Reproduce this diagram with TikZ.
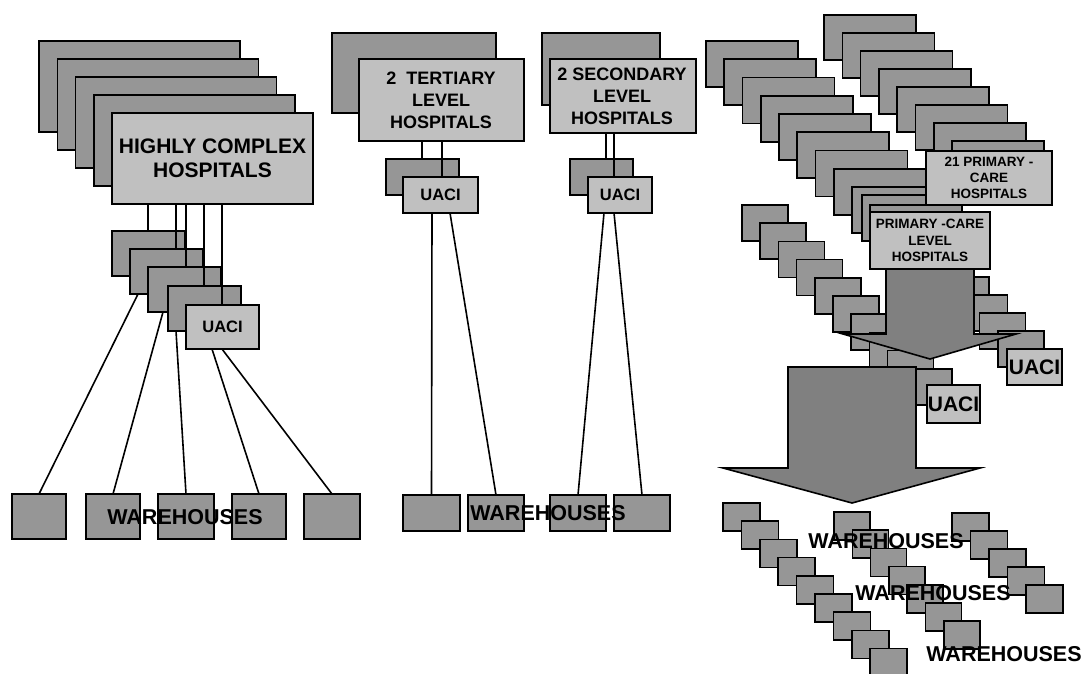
\documentclass[tikz,border=0pt]{standalone}
\usepackage{fontspec}
\setmainfont{Liberation Sans}
\definecolor{lightg}{HTML}{C0C0C0}
\definecolor{darkg}{HTML}{969696}
\definecolor{arrg}{HTML}{808080}
\newcommand\gb[6]{\node[#1,minimum width=#5,minimum height=#6] (#2) at (#3,-#4) {};}
\begin{document}
\begin{tikzpicture}[x=1pt,y=1pt,
  dk/.style={draw=black,fill=darkg,line width=1.6pt,inner sep=0pt,outer sep=0pt,anchor=north west},
  lt/.style={dk,fill=lightg},
  ln/.style={line width=1.6pt},
  arr/.style={draw=black,fill=arrg,line width=1.6pt,line join=miter},
  tbig/.style={inner sep=0pt,align=center,font=\fontsize{21}{24}\selectfont\bfseries},
  tmidl/.style={inner sep=0pt,align=center,font=\fontsize{18}{22}\selectfont\bfseries},
  tsml/.style={inner sep=0pt,align=center,font=\fontsize{13.5}{16}\selectfont\bfseries},
  tuac/.style={inner sep=0pt,align=center,font=\fontsize{16.5}{18}\selectfont\bfseries},
  tuacb/.style={inner sep=0pt,align=center,font=\fontsize{21}{24}\selectfont\bfseries},
  twh/.style={inner sep=0pt,align=center,font=\fontsize{21.5}{24}\selectfont\bfseries}
]
\useasboundingbox (0,0) rectangle (1083,-673);
\fill[white] (0,0) rectangle (1083,-673);

% ---------- left group ----------
\foreach \i in {0,...,3} {\node[dk,minimum width=201,minimum height=91] (hb\i) at ({39+18.3*\i},{-41-18*\i}) {};}
\gb{lt}{hc}{112}{113}{201}{91}
\node[tbig] (hct) at (hc.center) {HIGHLY COMPLEX\\HOSPITALS};

\gb{dk}{s1}{112}{231}{73}{45}
\gb{dk}{s2}{130}{249}{73}{45}
\gb{dk}{s3}{148}{267}{73}{45}
\gb{dk}{s4}{168}{286}{73}{45}
\gb{lt}{su}{186}{305}{73}{44}
\node[tuac] (sut) at (su.center) {UACI};

\draw[ln] (148,0 |- hc.south) -- (148,0 |- s1.north);
\draw[ln] (176,0 |- hc.south) -- (176,0 |- s2.north);
\draw[ln] (186,0 |- hc.south) -- (186,0 |- s3.north);
\draw[ln] (204,0 |- hc.south) -- (204,0 |- s4.north);
\draw[ln] (222,0 |- hc.south) -- (222,0 |- su.north);

\gb{dk}{w1}{12}{494}{54}{45}
\gb{dk}{w2}{86}{494}{54}{45}
\gb{dk}{w3}{158}{494}{56}{45}
\gb{dk}{w4}{232}{494}{54}{45}
\gb{dk}{w5}{304}{494}{56}{45}

\draw[ln] (138,0 |- s2.south) -- (w1.north);
\draw[ln] (163,0 |- s3.south) -- (w2.north);
\draw[ln] (176,0 |- s4.south) -- (w3.north);
\draw[ln] (212,0 |- su.south) -- (w4.north);
\draw[ln] (222,0 |- su.south) -- (w5.north);
\node[twh] (wlt) at (185,-517) {WAREHOUSES};

% ---------- tertiary ----------
\gb{dk}{tb}{332}{33}{164}{80}
\gb{lt}{tf}{359}{59}{165}{82}
\node[tmidl] (tft) at (441,-100) {2~~TERTIARY\\LEVEL\\HOSPITALS};
\gb{dk}{ts}{386}{159}{73}{36}
\gb{lt}{tu}{403}{177}{75}{36}
\node[tuac] (tut) at (tu.center) {UACI};
\draw[ln] (422,0 |- tf.south) -- (422,0 |- ts.north);
\draw[ln] (442,0 |- tf.south) -- (442,0 |- tu.north);

% ---------- secondary ----------
\gb{dk}{sb}{542}{33}{118}{72}
\gb{lt}{sf}{550}{59}{146}{74}
\node[tmidl] (sft) at (622,-96) {2 SECONDARY\\LEVEL\\HOSPITALS};
\gb{dk}{ss}{570}{159}{63}{36}
\gb{lt}{ssu}{588}{177}{64}{36}
\node[tuac] (ssut) at (ssu.center) {UACI};
\draw[ln] (606,0 |- sf.south) -- (606,0 |- ss.north);
\draw[ln] (614,0 |- sf.south) -- (614,0 |- ssu.north);

\gb{dk}{mw1}{403}{495}{57}{36}
\gb{dk}{mw2}{468}{495}{56}{36}
\gb{dk}{mw3}{550}{495}{56}{36}
\gb{dk}{mw4}{614}{495}{56}{36}
\draw[ln] (432,0 |- tu.south) -- (mw1.north);
\draw[ln] (450,0 |- tu.south) -- (mw2.north);
\draw[ln] (604,0 |- ssu.south) -- (mw3.north);
\draw[ln] (614,0 |- ssu.south) -- (mw4.north);
\node[twh] (wmt) at (548,-513) {WAREHOUSES};

% ---------- right group ----------
\foreach \i in {0,...,8} {\node[dk,minimum width=92,minimum height=46] (pa\i) at ({706+18.25*\i},{-41-18.25*\i}) {};}
\gb{dk}{pa9}{862}{195}{92}{46}
\gb{dk}{pa10}{870}{205}{92}{46}
\foreach \i in {0,...,7} {\node[dk,minimum width=92,minimum height=45] (pb\i) at ({824+18.3*\i},{-15-18*\i}) {};}
\gb{lt}{p21}{926}{151}{126}{54}
\node[tsml] (p21t) at (989,-178) {21 PRIMARY -\\CARE\\HOSPITALS};

\foreach \i in {0,...,9} {\node[dk,minimum width=46,minimum height=36] (pc\i) at ({742+18.2*\i},{-205-18.2*\i}) {};}
\foreach \i in {0,...,3} {\node[dk,minimum width=46,minimum height=36] (pd\i) at ({943+18.3*\i},{-277-18*\i}) {};}

\draw[arr] (886,-262) -- (886,-334) -- (843,-334) -- (930,-359) -- (1016,-334) -- (974,-334) -- (974,-262) -- cycle;
\gb{lt}{ppc}{870}{212}{120}{57}
\node[tsml,font=\fontsize{13.5}{16.7}\selectfont\bfseries] (ppct) at (ppc.center) {PRIMARY -CARE\\LEVEL\\HOSPITALS};

\draw[arr] (788,-367) -- (788,-468) -- (723,-468) -- (852,-503) -- (980,-468) -- (916,-468) -- (916,-367) -- cycle;

\gb{lt}{cu}{927}{385}{53}{38}
\node[tuacb] (cut) at (cu.center) {UACI};
\gb{lt}{du}{1007}{349}{55}{36}
\node[tuacb] (dut) at (du.center) {UACI};

\foreach \i in {0,...,8} {\node[dk,minimum width=37,minimum height=28] (pe\i) at ({723+18.4*\i},{-503-18.2*\i}) {};}
\foreach \i in {0,...,6} {\node[dk,minimum width=36,minimum height=28] (pf\i) at ({834+18.3*\i},{-512-18.2*\i}) {};}
\foreach \i in {0,...,4} {\node[dk,minimum width=37,minimum height=28] (pg\i) at ({952+18.5*\i},{-513-18*\i}) {};}

\node[twh] (wr1) at (886,-541) {WAREHOUSES};
\node[twh] (wr2) at (933,-593) {WAREHOUSES};
\node[twh] (wr3) at (1004,-654) {WAREHOUSES};
\end{tikzpicture}
\end{document}
